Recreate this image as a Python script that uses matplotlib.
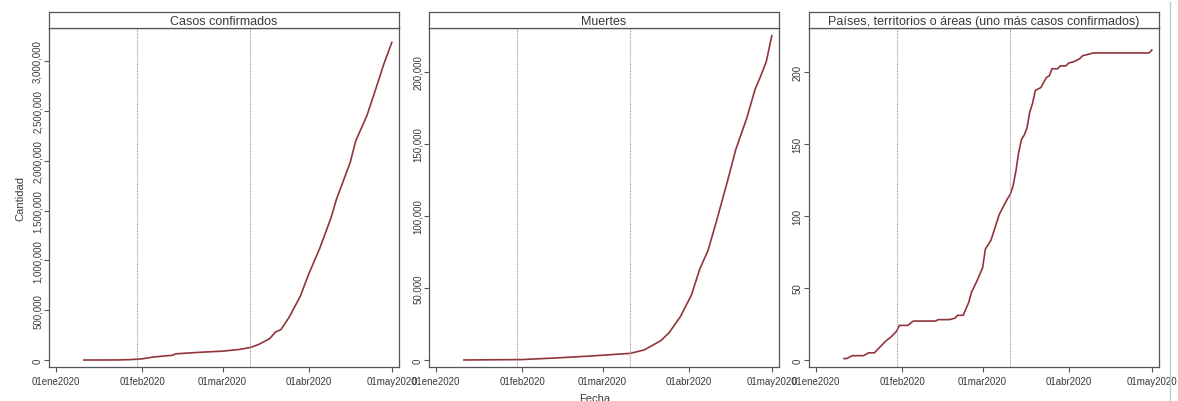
import pandas as pd
import matplotlib
matplotlib.use("Agg")
import matplotlib.pyplot as plt
from matplotlib.ticker import FuncFormatter

plt.rcParams['font.family'] = ['Liberation Sans', 'DejaVu Sans']

# Datos (acumulados)
fechas_casos = ['2020-01-11', '2020-01-23', '2020-01-28', '2020-02-01', '2020-02-05',
                '2020-02-12', '2020-02-13', '2020-02-22', '2020-03-01', '2020-03-07',
                '2020-03-11', '2020-03-14', '2020-03-18', '2020-03-20', '2020-03-22',
                '2020-03-25', '2020-03-29', '2020-04-01', '2020-04-05', '2020-04-09',
                '2020-04-11', '2020-04-16', '2020-04-18', '2020-04-22', '2020-04-26',
                '2020-04-28', '2020-05-01']
casos = [0, 600, 4500, 12000, 30000,
         48000, 62000, 78000, 89000, 106000,
         126000, 156000, 215000, 280000, 305000,
         430000, 640000, 860000, 1120000, 1420000,
         1610000, 1983000, 2200000, 2451000, 2786000,
         2960000, 3187000]

fechas_muertes = ['2020-01-11', '2020-02-01', '2020-02-13', '2020-02-26', '2020-03-11',
                  '2020-03-16', '2020-03-22', '2020-03-25', '2020-03-29', '2020-04-02',
                  '2020-04-05', '2020-04-08', '2020-04-11', '2020-04-14', '2020-04-15',
                  '2020-04-18', '2020-04-22', '2020-04-25', '2020-04-27', '2020-04-29',
                  '2020-05-01']
muertes = [0, 300, 1400, 2800, 4600,
           7000, 13400, 19000, 30000, 45000,
           63000, 76000, 96000, 117000, 124000,
           146000, 168000, 188000, 197000, 207000,
           225000]

fechas_paises = ['2020-01-11', '2020-01-12', '2020-01-14', '2020-01-18', '2020-01-20',
                 '2020-01-22', '2020-01-25', '2020-01-26', '2020-01-28', '2020-01-30',
                 '2020-01-31', '2020-02-03', '2020-02-05', '2020-02-13', '2020-02-14',
                 '2020-02-18', '2020-02-20', '2020-02-21', '2020-02-23', '2020-02-25',
                 '2020-02-26', '2020-02-28', '2020-03-01', '2020-03-02', '2020-03-04',
                 '2020-03-07', '2020-03-10', '2020-03-11', '2020-03-12', '2020-03-13',
                 '2020-03-14', '2020-03-15', '2020-03-16', '2020-03-17', '2020-03-18',
                 '2020-03-19', '2020-03-20', '2020-03-22', '2020-03-24', '2020-03-25',
                 '2020-03-26', '2020-03-28', '2020-03-29', '2020-03-31', '2020-04-01',
                 '2020-04-03', '2020-04-05', '2020-04-06', '2020-04-08', '2020-04-10',
                 '2020-04-30', '2020-05-01']
paises = [1, 1, 3, 3, 5,
          5, 11, 13, 16, 20,
          24, 24, 27, 27, 28,
          28, 29, 31, 31, 40,
          47, 55, 64, 77, 83,
          101, 112, 115, 121, 131,
          144, 153, 156, 161, 172,
          178, 187, 189, 196, 197,
          202, 202, 204, 204, 206,
          207, 209, 211, 212, 213,
          213, 215]

titulos = ['Casos confirmados', 'Muertes',
           'Países, territorios o áreas (uno más casos confirmados)']
fechas_ticks = ['2020-01-01', '2020-02-01', '2020-03-01', '2020-04-01', '2020-05-01']
etiquetas_ticks = ['01ene2020', '01feb2020', '01mar2020', '01abr2020', '01may2020']
fechas_eventos = ['2020-01-30', '2020-03-11']

W, H = 1178, 402


def rect(x0, y0, x1, y1):
    return [x0 / W, 1 - y1 / H, (x1 - x0) / W, (y1 - y0) / H]


fig = plt.figure(figsize=(W / 100, H / 100), dpi=100)

series = [(fechas_casos, casos, 500000, 3331000, -70000),
          (fechas_muertes, muertes, 50000, 230300, -4860),
          (fechas_paises, paises, 50, 230.3, -4.86)]
izquierdas = [49, 429, 809]
color_linea = '#90353b'
gris = '#555555'
texto = '#3a3a3a'

x_ini = pd.Timestamp('2020-01-01') - pd.Timedelta(hours=62)
x_fin = pd.Timestamp('2020-05-01') + pd.Timedelta(hours=62)

for i, (fx, vals, paso, ytop, ybot) in enumerate(series):
    x0 = izquierdas[i]
    ax = fig.add_axes(rect(x0, 29, x0 + 350, 368))
    ax.plot(pd.to_datetime(fx), vals, color=color_linea, lw=1.2)
    for f in fechas_eventos:
        ax.axvline(pd.Timestamp(f), color='#999999', ls=(0, (1, 1)), lw=0.8)
    ax.set_xlim(x_ini, x_fin)
    ax.set_ylim(ybot, ytop)
    ax.set_xticks(pd.to_datetime(fechas_ticks))
    ax.set_xticklabels(etiquetas_ticks, fontsize=7, color=texto)
    yt = [paso * k for k in range(int(ytop // paso) + 1)]
    ax.set_yticks(yt)
    ax.yaxis.set_major_formatter(FuncFormatter(lambda v, p: f"{v:,.0f}"))
    for lab in ax.get_yticklabels():
        lab.set_rotation(90)
        lab.set_va('center')
        lab.set_fontsize(7)
        lab.set_color(texto)
    ax.tick_params(axis='both', length=3.6, width=0.8, color=gris)
    ax.tick_params(axis='y', pad=1)
    ax.tick_params(axis='x', pad=3)
    for s in ax.spines.values():
        s.set_color(gris)
        s.set_linewidth(0.9)

    # franja del titulo
    st = fig.add_axes(rect(x0, 13, x0 + 350, 29))
    st.set_xticks([])
    st.set_yticks([])
    for s in st.spines.values():
        s.set_color(gris)
        s.set_linewidth(0.9)
    st.text(0.5, 0.45, titulos[i], ha='center', va='center', fontsize=9,
            color=texto, transform=st.transAxes)

fig.text(20 / W, 1 - 199 / H, 'Cantidad', rotation=90, ha='center', va='center',
         fontsize=8, color=texto)
fig.text(595 / W, 1 - 394 / H, 'Fecha', ha='center', va='top', fontsize=8,
         color=texto)
fig.add_artist(plt.Line2D([1169.5 / W, 1169.5 / W], [0, 1 - 3 / H],
                          color='#c8c8c8', lw=1.0, transform=fig.transFigure))

fig.savefig('out.png', dpi=100)
